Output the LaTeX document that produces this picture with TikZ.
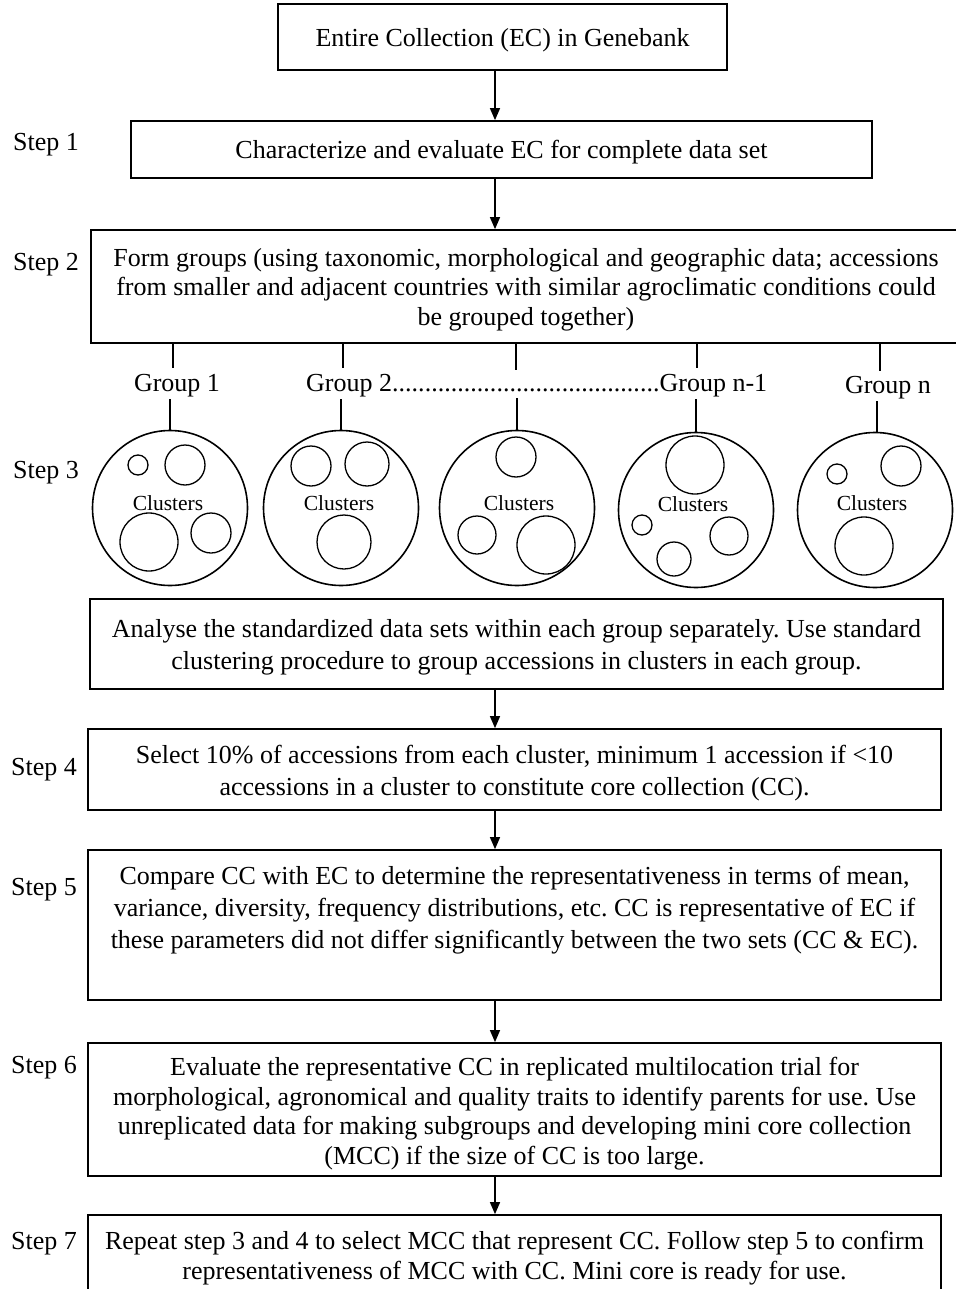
\documentclass[tikz,border=0pt]{standalone}
\usepackage{fontspec}
\setmainfont{Liberation Serif}
\usetikzlibrary{arrows.meta}
\frenchspacing
\begin{document}
\begin{tikzpicture}[x=1pt,y=-1pt,
  box/.style={draw, line width=1.7pt, rectangle, inner sep=0pt},
  txt/.style={align=center, inner sep=0pt, font=\fontsize{26}{30}\selectfont},
  lbl/.style={font=\fontsize{26}{30}\selectfont, anchor=base west, inner sep=0pt},
  grp/.style={font=\fontsize{26}{30}\selectfont, anchor=base, inner sep=0pt},
  arr/.style={line width=1.3pt, -{Triangle[length=12pt,width=10pt]}},
  conn/.style={line width=1.4pt},
  big/.style={draw, circle, line width=1.6pt, inner sep=0pt, minimum size=155pt},
  sm/.style={draw, circle, line width=1.3pt, inner sep=0pt},
  cl/.style={font=\fontsize{21.5}{24}\selectfont, inner sep=0pt},
]
\useasboundingbox (0,0) rectangle (955,1289);
\fill[white] (0,0) rectangle (955,1289);

% boxes
\node[box, minimum width=449pt, minimum height=66pt] (ec) at (502.5,37) {};
\node[box, minimum width=741pt, minimum height=57pt] (s1) at (501.5,149.5) {};
\node[box, minimum width=870pt, minimum height=113pt] (s2) at (526,286.5) {};
\node[box, minimum width=853pt, minimum height=90pt] (an) at (516.5,644) {};
\node[box, minimum width=853pt, minimum height=81pt] (s4) at (514.5,769.5) {};
\node[box, minimum width=853pt, minimum height=150pt] (s5) at (514.5,925) {};
\node[box, minimum width=853pt, minimum height=133pt] (s6) at (514.5,1109.5) {};
\node[box, minimum width=853pt, minimum height=82pt] (s7) at (514.5,1256) {};

% box texts
\node[txt] (ect) at ([yshift=-3pt]ec.center) {Entire Collection (EC) in Genebank};
\node[txt] (s1t) at ([yshift=-3pt]s1.center) {Characterize and evaluate EC for complete data set};
\node[txt, font=\fontsize{26}{29.5}\selectfont] (s2t) at ([yshift=-3pt]s2.center) {Form groups (using taxonomic, morphological and geographic data; accessions\\ from smaller and adjacent countries with similar agroclimatic conditions could\\ be grouped together)};
\node[txt, font=\fontsize{26}{32}\selectfont] (ant) at ([yshift=-3pt]an.center) {Analyse the standardized data sets within each group separately. Use standard\\ clustering procedure to group accessions in clusters in each group.};
\node[txt, font=\fontsize{26}{32}\selectfont] (s4t) at ([yshift=-4pt]s4.center) {Select 10\% of accessions from each cluster, minimum 1 accession if <10\\ accessions in a cluster to constitute core collection (CC).};
\node[txt, font=\fontsize{26}{32}\selectfont] (s5t) at ([yshift=15pt]s5.center) {Compare CC with EC to determine the representativeness in terms of mean,\\ variance, diversity, frequency distributions, etc. CC is representative of EC if\\ these parameters did not differ significantly between the two sets (CC \& EC).};
\node[txt, font=\fontsize{26}{29.7}\selectfont] (s6t) at ([yshift=-4pt]s6.center) {Evaluate the representative CC in replicated multilocation trial for\\ morphological, agronomical and quality traits to identify parents for use. Use\\ unreplicated data for making subgroups and developing mini core collection\\ (MCC) if the size of CC is too large.};
\node[txt] (s7t) at ([yshift=-2pt]s7.center) {Repeat step 3 and 4 to select MCC that represent CC. Follow step 5 to confirm\\ representativeness of MCC with CC. Mini core is ready for use.};

% step labels
\node[lbl] (l1) at (13,151) {Step 1};
\node[lbl] (l2) at (13,270) {Step 2};
\node[lbl] (l3) at (13,478) {Step 3};
\node[lbl] (l4) at (11,775) {Step 4};
\node[lbl] (l5) at (11,895) {Step 5};
\node[lbl] (l6) at (11,1073) {Step 6};
\node[lbl] (l7) at (11,1249) {Step 7};

% arrows
\coordinate (ax) at (495,0);
\draw[arr] (ec.south -| ax) -- (s1.north -| ax);
\draw[arr] (s1.south -| ax) -- (s2.north -| ax);
\draw[arr] (an.south -| ax) -- (s4.north -| ax);
\draw[arr] (s4.south -| ax) -- (s5.north -| ax);
\draw[arr] (s5.south -| ax) -- (s6.north -| ax);
\draw[arr] (s6.south -| ax) -- (s7.north -| ax);

% group labels
\node[grp] (g1) at (177,391) {Group 1};
\node[grp, anchor=base west] (g24) at (306,391) {\makebox[461pt][s]{Group 2\xleaders\hbox{.}\hfill Group n-1}};
\node[grp] (g5) at (888,393) {Group n};

% big circles
\node[big] (c1) at (170,508) {};
\node[big] (c2) at (341,508) {};
\node[big] (c3) at (517,508) {};
\node[big] (c4) at (696,510) {};
\node[big] (c5) at (875,510) {};

% group connectors
\coordinate (t1) at (173,368); \coordinate (b1) at (170,399);
\coordinate (t2) at (343,368); \coordinate (b2) at (341,399);
\coordinate (t3) at (516,370); \coordinate (b3) at (517,398);
\coordinate (t4) at (697,368); \coordinate (b4) at (696,399);
\coordinate (t5) at (880,371); \coordinate (b5) at (877,401);
\foreach \i in {1,...,5}{
  \draw[conn] (s2.south -| t\i) -- (t\i);
  \draw[conn] (b\i) -- (c\i.north -| b\i);
}

% inner circles
\node[cl] (k1) at (168,503) {Clusters};
\node[sm, minimum size=20pt] (c1a) at (138,465) {};
\node[sm, minimum size=40pt] (c1b) at (185,465) {};
\node[sm, minimum size=58pt] (c1c) at (149,542) {};
\node[sm, minimum size=40pt] (c1d) at (211,533) {};

\node[cl] (k2) at (339,503) {Clusters};
\node[sm, minimum size=40pt] (c2a) at (311,466) {};
\node[sm, minimum size=44pt] (c2b) at (367,464) {};
\node[sm, minimum size=54pt] (c2c) at (344,542) {};

\node[cl] (k3) at (519,503) {Clusters};
\node[sm, minimum size=40pt] (c3a) at (516,457) {};
\node[sm, minimum size=38pt] (c3b) at (477,535) {};
\node[sm, minimum size=58pt] (c3c) at (546,545) {};

\node[cl] (k4) at (693,504) {Clusters};
\node[sm, minimum size=58pt] (c4a) at (695,465) {};
\node[sm, minimum size=20pt] (c4b) at (642,525) {};
\node[sm, minimum size=34pt] (c4c) at (674,559) {};
\node[sm, minimum size=38pt] (c4d) at (729,536) {};

\node[cl] (k5) at (872,503) {Clusters};
\node[sm, minimum size=20pt] (c5a) at (837,474) {};
\node[sm, minimum size=40pt] (c5b) at (901,466) {};
\node[sm, minimum size=58pt] (c5c) at (864,546) {};
\end{tikzpicture}
\end{document}
